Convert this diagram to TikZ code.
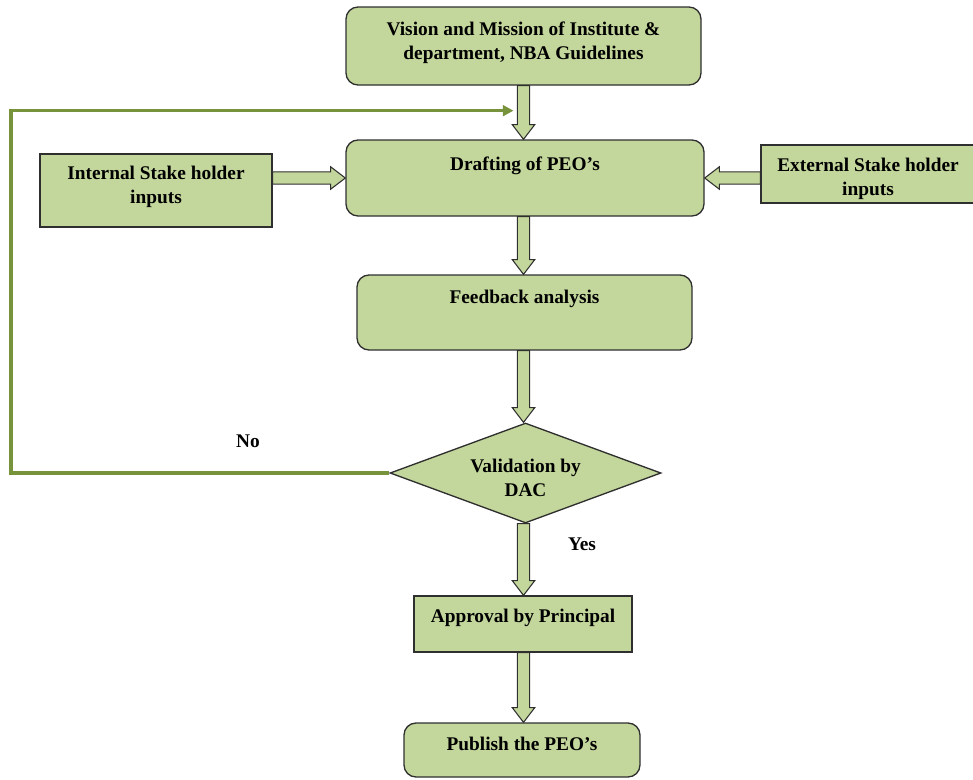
\documentclass[tikz,border=0pt]{standalone}
\usepackage{fontspec}
\setmainfont{Liberation Serif}
\usetikzlibrary{calc,shapes.geometric,arrows.meta}

\definecolor{boxfill}{HTML}{C3D69B}
\definecolor{boxline}{HTML}{2F2F2F}
\definecolor{loopgreen}{HTML}{77933C}

\tikzset{
  txt/.style={font=\bfseries\fontsize{14.5}{18}\selectfont, align=center, text=black, inner sep=0pt},
  sqbox/.style={draw=boxline, fill=boxfill, line width=1pt, inner sep=0pt},
  rbox/.style={sqbox, rounded corners=9pt},
  dbox/.style={sqbox, diamond},
  fatarrowstyle/.style={draw=boxline, fill=boxfill, line width=0.8pt, line join=miter},
  loopline/.style={draw=loopgreen, line width=2.3pt, -{Triangle[length=8pt,width=8pt]}},
}

% hollow block arrow from #1 to #2 (shaft half-width, head half-width, head length)
\newcommand{\blockarrow}[2]{%
  \path (#1) coordinate (bas) (#2) coordinate (bae);
  \path ($(bae)!11pt!(bas)$) coordinate (bah);
  \draw[fatarrowstyle]
    ($(bas)!4.6pt!90:(bae)$) -- ($(bah)!4.6pt!90:(bae)$) -- ($(bah)!8.4pt!90:(bae)$)
    -- (bae)
    -- ($(bah)!8.4pt!-90:(bae)$) -- ($(bah)!4.6pt!-90:(bae)$) -- ($(bas)!4.6pt!-90:(bae)$)
    -- cycle;
}

\begin{document}
\begin{tikzpicture}[x=0.75pt, y=-0.75pt]
  \useasboundingbox (0,0) rectangle (973,779);

  % boxes
  \node[rbox, minimum width=266.25pt, minimum height=58.5pt,
        label={[txt, yshift=2.25pt]center:Vision and Mission of Institute \&\\department, NBA Guidelines}]
        (vision) at (523.5,46) {};
  \node[rbox, minimum width=268.5pt, minimum height=57pt,
        label={[txt, yshift=9pt]center:Drafting of PEO’s}]
        (drafting) at (525,178) {};
  \node[sqbox, minimum width=174pt, minimum height=54.75pt,
        label={[txt, yshift=2.7pt]center:Internal Stake holder\\inputs}]
        (internal) at (156,190.5) {};
  \node[sqbox, minimum width=160.5pt, minimum height=43.5pt,
        label={[txt, yshift=-3.5pt]center:External Stake holder\\inputs}]
        (external) at (868,174) {};
  \node[rbox, minimum width=251.25pt, minimum height=56.25pt,
        label={[txt, yshift=10.2pt]center:Feedback analysis}]
        (feedback) at (524.5,312.5) {};
  \node[dbox, minimum width=203.25pt, minimum height=75pt,
        label={[txt, yshift=-3.5pt]center:Validation by\\DAC}]
        (dac) at (525.5,473) {};
  \node[sqbox, minimum width=163.5pt, minimum height=42pt,
        label={[txt, yshift=4.5pt]center:Approval by Principal}]
        (approval) at (523,624) {};
  \node[rbox, minimum width=177pt, minimum height=40.5pt,
        label={[txt, yshift=4.5pt]center:Publish the PEO’s}]
        (publish) at (522,750) {};

  % block arrows along the main flow
  \blockarrow{vision.south}{vision.south |- drafting.north}
  \blockarrow{vision.south |- drafting.south}{vision.south |- feedback.north}
  \blockarrow{vision.south |- feedback.south}{vision.south |- dac.north}
  \blockarrow{vision.south |- dac.south}{vision.south |- approval.north}
  \blockarrow{vision.south |- approval.south}{vision.south |- publish.north}
  \blockarrow{internal.east |- drafting.west}{drafting.west}
  \blockarrow{external.west |- drafting.east}{drafting.east}

  % "No" loop back to drafting
  \coordinate (loopx) at (11,0);
  \coordinate (loopend) at ($(vision.south)+(-10,25)$);
  \draw[loopline] (dac.west) -- (dac.west -| loopx) |- (loopend);

  % decision labels
  \node[txt] (nolbl) at (248,441) {No};
  \node[txt] (yeslbl) at (582,544) {Yes};
\end{tikzpicture}
\end{document}
